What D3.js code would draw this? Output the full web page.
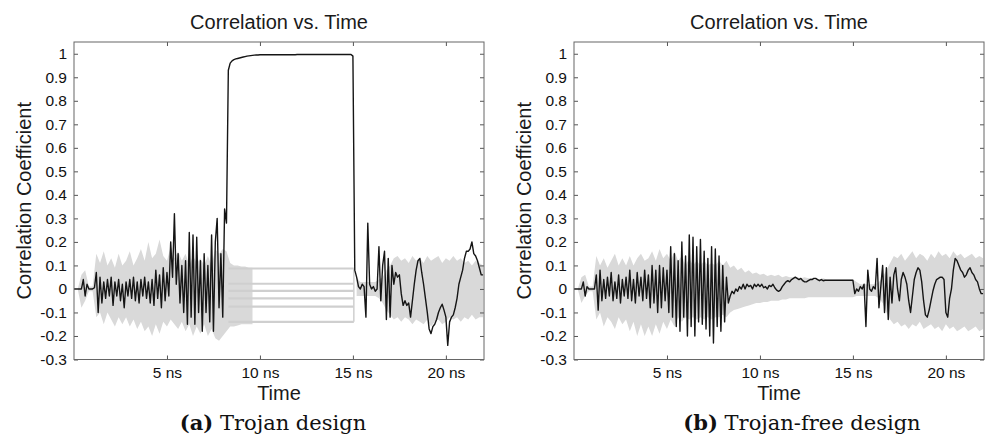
<!DOCTYPE html>
<html>
<head>
<meta charset="utf-8">
<script src="https://cdn.jsdelivr.net/npm/d3@7"></script>
<style>
  body { margin: 0; background: #fff; }
  svg { display: block; }
</style>
</head>
<body>
<div id="graphContainer"></div>
<script>
// sample spacing of the traces (ns)
const blackStep = 0.1
const grayStep = 0.2

const xTicks = [5, 10, 15, 20]
const yTicks = [1, 0.9, 0.8, 0.7, 0.6, 0.5, 0.4, 0.3, 0.2, 0.1, 0, -0.1, -0.2, -0.3]

// (a) Trojan design - correct key guess, one value every 0.1 ns from 0 to 22 ns
const trojanBlack = [
  0, 0, 0, 0, 0, 0.04, -0.03, 0.02, 0, 0,
  0, 0.005, 0.07, -0.1, 0.05, -0.06, 0.03, -0.04, 0.04, -0.03,
  0.05, -0.07, 0.03, -0.03, 0.04, -0.05, 0.02, -0.08, 0.03, -0.03,
  0.04, -0.04, 0.05, -0.05, 0.03, -0.06, 0.04, -0.03, 0.05, -0.04,
  0.03, -0.06, 0.04, -0.07, 0.08, -0.04, 0.06, -0.08, 0.09, -0.05,
  0.07, -0.03, 0.2, 0.05, 0.32, 0.02, 0.15, -0.06, 0.1, -0.1,
  0.12, -0.15, 0.24, -0.12, 0.23, -0.15, 0.22, -0.1, 0.12, -0.18,
  0.15, -0.1, 0.1, -0.14, 0.23, -0.18, 0.2, 0.3, -0.08, 0.15,
  -0.12, 0.34, 0.28, 0.93, 0.96, 0.97, 0.975, 0.978, 0.98, 0.982,
  0.984, 0.986, 0.988, 0.99, 0.991, 0.992, 0.993, 0.994, 0.995, 0.995,
  0.996, 0.996, 0.996, 0.996, 0.996, 0.996, 0.996, 0.996, 0.996, 0.996,
  0.996, 0.996, 0.996, 0.996, 0.996, 0.996, 0.996, 0.996, 0.996, 0.996,
  0.997, 0.997, 0.997, 0.997, 0.997, 0.997, 0.997, 0.997, 0.997, 0.997,
  0.997, 0.997, 0.997, 0.997, 0.997, 0.997, 0.997, 0.997, 0.997, 0.997,
  0.997, 0.997, 0.997, 0.997, 0.997, 0.997, 0.997, 0.997, 0.997, 0.997,
  0.99, 0.08, 0.05, 0.01, 0, 0.02, 0.01, -0.12, 0.28, 0.02,
  0, 0.01, -0.01, 0, 0.18, -0.05, 0.1, 0.16, -0.13, 0.13,
  -0.12, 0.1, 0.02, 0.07, 0.05, 0.06, -0.02, -0.07, -0.05, -0.07,
  -0.06, -0.12, -0.05, 0.02, 0.08, 0.12, 0.13, 0.07, 0.02, -0.04,
  -0.1, -0.17, -0.19, -0.16, -0.15, -0.13, -0.1, -0.08, -0.065, -0.09,
  -0.12, -0.24, -0.14, -0.12, -0.11, -0.08, -0.04, 0.02, 0.05, 0.08,
  0.13, 0.16, 0.16, 0.17, 0.2, 0.15, 0.14, 0.12, 0.09, 0.06, 0.06
]

// (a) spread of the wrong key guesses, every 0.2 ns (null = only flat lines)
const trojanGrayHi = [
  0, 0, 0.06, 0.08, 0.01, 0.01, 0.15, 0.11, 0.16, 0.1,
  0.13, 0.09, 0.15, 0.1, 0.12, 0.16, 0.1, 0.13, 0.17, 0.12,
  0.2, 0.13, 0.15, 0.21, 0.14, 0.12, 0.18, 0.13, 0.16, 0.12,
  0.15, 0.1, 0.14, 0.11, 0.13, 0.1, 0.14, 0.1, 0.17, 0.15,
  0.17, 0.16, 0.11, 0.1, 0.1, 0.095, 0.095, 0.09, 0.09, null,
  null, null, null, null, null, null, null, null, null, null,
  null, null, null, null, null, null, null, null, null, null,
  null, null, null, null, null, null, 0.05, 0.03, 0.03, 0.03,
  0.03, 0.03, 0.04, 0.05, 0.08, 0.1, 0.13, 0.14, 0.12, 0.13,
  0.11, 0.14, 0.12, 0.13, 0.11, 0.14, 0.12, 0.13, 0.14, 0.11,
  0.13, 0.12, 0.14, 0.12, 0.13, 0.11, 0.12, 0.1, 0.12, 0.11, 0.1
]
const trojanGrayLo = [
  0, 0, -0.08, -0.05, -0.01, -0.01, -0.12, -0.1, -0.15, -0.1,
  -0.13, -0.16, -0.12, -0.15, -0.12, -0.16, -0.13, -0.17, -0.14, -0.18,
  -0.16, -0.2, -0.15, -0.19, -0.14, -0.16, -0.13, -0.15, -0.17, -0.14,
  -0.18, -0.15, -0.2, -0.16, -0.19, -0.15, -0.2, -0.17, -0.21, -0.22,
  -0.2, -0.18, -0.16, -0.16, -0.155, -0.15, -0.15, -0.15, -0.15, null,
  null, null, null, null, null, null, null, null, null, null,
  null, null, null, null, null, null, null, null, null, null,
  null, null, null, null, null, null, -0.03, -0.03, -0.03, -0.03,
  -0.03, -0.03, -0.04, -0.06, -0.09, -0.11, -0.13, -0.12, -0.14, -0.12,
  -0.13, -0.15, -0.13, -0.14, -0.15, -0.13, -0.16, -0.14, -0.13, -0.15,
  -0.14, -0.12, -0.13, -0.12, -0.14, -0.12, -0.13, -0.11, -0.13, -0.12, -0.12
]

// (a) wrong guesses stay flat while the trojan is active
const trojanFlatLevels = [0.087, 0.022, -0.008, -0.04, -0.075, -0.14]
const trojanFlatSpan = [8.3, 15.05]

// (b) Trojan-free design, every 0.1 ns
const cleanBlack = [
  0, 0, 0, 0, 0, 0.03, -0.03, 0.01, 0, 0,
  0, 0, 0.06, -0.09, 0.08, -0.05, 0.04, -0.04, 0.05, -0.03,
  0.07, -0.05, 0.03, -0.04, 0.06, -0.06, 0.04, -0.03, 0.05, -0.04,
  0.08, -0.05, 0.04, -0.06, 0.07, -0.03, 0.05, -0.05, 0.08, -0.04,
  0.06, -0.08, 0.1, -0.06, 0.08, -0.1, 0.1, -0.08, 0.09, -0.05,
  0.08, -0.1, 0.18, -0.12, 0.15, -0.16, 0.12, -0.18, 0.2, -0.12,
  0.14, -0.2, 0.23, -0.16, 0.22, -0.2, 0.18, -0.14, 0.21, -0.15,
  0.16, -0.17, 0.13, -0.2, 0.18, -0.23, 0.17, -0.16, 0.14, -0.18,
  0.1, -0.14, 0.05, -0.06, -0.03, -0.01, -0.02, 0, -0.01, 0.01,
  0, 0.02, 0, 0.02, 0.01, 0.015, 0, 0.02, 0.01, 0.02,
  0.01, 0.02, 0.005, 0.01, 0, 0.015, 0.01, 0.02, 0.005, -0.005,
  -0.01, -0.005, 0.01, 0.02, 0.03, 0.035, 0.03, 0.04, 0.045, 0.05,
  0.045, 0.04, 0.045, 0.035, 0.03, 0.03, 0.035, 0.04, 0.04, 0.045,
  0.045, 0.04, 0.035, 0.04, 0.035, 0.037, 0.037, 0.037, 0.037, 0.037,
  0.037, 0.037, 0.037, 0.037, 0.037, 0.037, 0.037, 0.037, 0.037, 0.037,
  0.037, -0.02, 0, -0.01, 0.01, 0, 0.02, -0.16, 0.08, 0,
  -0.01, 0.01, 0, 0.13, -0.08, 0.01, 0.1, -0.1, 0.09, -0.13,
  0.05, -0.06, 0.06, 0.09, 0, -0.05, 0.04, 0.07, 0.05, 0.02,
  -0.05, -0.1, -0.03, 0.04, 0.07, 0.09, 0.08, 0.03, -0.05, -0.11,
  -0.12, -0.09, -0.05, -0.01, 0.02, 0.04, 0.045, 0.05, 0.05, 0.04,
  -0.1, -0.12, -0.04, 0, 0.08, 0.13, 0.12, 0.1, 0.08, 0.07,
  0.05, 0.06, 0.08, 0.09, 0.07, 0.06, 0.04, 0.03, 0, -0.02, -0.02
]
const cleanGrayHi = [
  0, 0, 0.05, 0.06, 0.01, 0.01, 0.14, 0.1, 0.13, 0.09,
  0.12, 0.15, 0.1, 0.13, 0.1, 0.14, 0.1, 0.13, 0.15, 0.12,
  0.13, 0.16, 0.12, 0.17, 0.13, 0.15, 0.12, 0.16, 0.12, 0.14,
  0.1, 0.13, 0.1, 0.12, 0.1, 0.12, 0.1, 0.11, 0.1, 0.12,
  0.1, 0.12, 0.09, 0.1, 0.08, 0.09, 0.07, 0.08, 0.065, 0.07,
  0.06, 0.065, 0.055, 0.06, 0.055, 0.06, 0.05, 0.055, 0.05, 0.05,
  0.05, 0.045, 0.05, 0.045, 0.045, 0.045, 0.04, 0.045, 0.04, 0.04,
  0.04, 0.04, 0.04, 0.04, 0.04, 0.04, 0.03, 0.02, 0.02, 0.02,
  0.02, 0.02, 0.03, 0.05, 0.08, 0.11, 0.14, 0.13, 0.15, 0.12,
  0.14, 0.16, 0.13, 0.15, 0.14, 0.12, 0.15, 0.13, 0.16, 0.14,
  0.15, 0.13, 0.16, 0.14, 0.15, 0.13, 0.14, 0.15, 0.13, 0.14, 0.13
]
const cleanGrayLo = [
  0, 0, -0.06, -0.03, -0.01, -0.01, -0.13, -0.1, -0.16, -0.12,
  -0.14, -0.17, -0.12, -0.15, -0.13, -0.18, -0.14, -0.2, -0.15, -0.2,
  -0.16, -0.2, -0.15, -0.19, -0.14, -0.17, -0.13, -0.16, -0.12, -0.14,
  -0.12, -0.13, -0.12, -0.13, -0.12, -0.13, -0.12, -0.13, -0.12, -0.12,
  -0.11, -0.12, -0.1, -0.09, -0.085, -0.08, -0.075, -0.07, -0.065, -0.06,
  -0.06, -0.055, -0.055, -0.05, -0.05, -0.05, -0.045, -0.045, -0.04, -0.04,
  -0.04, -0.04, -0.04, -0.035, -0.035, -0.035, -0.035, -0.035, -0.035, -0.035,
  -0.035, -0.035, -0.035, -0.035, -0.035, -0.035, -0.03, -0.03, -0.03, -0.03,
  -0.03, -0.03, -0.04, -0.06, -0.1, -0.13, -0.15, -0.14, -0.16, -0.15,
  -0.17, -0.15, -0.16, -0.14, -0.17, -0.16, -0.15, -0.17, -0.16, -0.18,
  -0.15, -0.17, -0.16, -0.18, -0.17, -0.16, -0.18, -0.17, -0.16, -0.18, -0.17
]

let svgWidth = 986,
  svgHeight = 438
let plotTop = 42,
  plotBottom = 359.5,
  plotWidth = 410

let svg = d3
  .select('#graphContainer')
  .append('svg')
  .attr('width', svgWidth)
  .attr('height', svgHeight)

const sansFont = "'Liberation Sans', Arial, sans-serif"
const serifFont = "'DejaVu Serif', serif"

function drawPanel(p) {
  let left = p.left
  let x = d3.scaleLinear().domain([0, 22.05]).range([left, left + plotWidth])
  let y = d3.scaleLinear().domain([-0.3, 1.05]).range([plotBottom, plotTop])

  let g = svg.append('g')

  g.append('clipPath')
    .attr('id', 'clip-' + p.id)
    .append('rect')
    .attr('x', left)
    .attr('y', plotTop)
    .attr('width', plotWidth)
    .attr('height', plotBottom - plotTop)

  let plot = g.append('g').attr('clip-path', 'url(#clip-' + p.id + ')')

  // grey band of the other key guesses
  let band = p.grayHi.map((hi, i) => ({ t: i * grayStep, hi: hi, lo: p.grayLo[i] }))
  plot
    .append('path')
    .datum(band)
    .attr(
      'd',
      d3
        .area()
        .defined((d) => d.hi !== null)
        .x((d) => x(d.t))
        .y0((d) => y(d.lo))
        .y1((d) => y(d.hi))
    )
    .attr('fill', '#d9d9d9')

  if (p.flatLevels) {
    p.flatLevels.forEach((lv) => {
      plot
        .append('path')
        .datum(p.flatSpan.map((t) => ({ t: t, v: lv })))
        .attr(
          'd',
          d3
            .line()
            .x((d) => x(d.t))
            .y((d) => y(d.v))
        )
        .attr('stroke', '#cfcfcf')
        .attr('stroke-width', 2.2)
        .attr('fill', 'none')
    })
    let ext = d3.extent(p.flatLevels)
    plot
      .append('path')
      .datum(ext.map((v) => ({ t: p.flatSpan[1], v: v })))
      .attr(
        'd',
        d3
          .line()
          .x((d) => x(d.t))
          .y((d) => y(d.v))
      )
      .attr('stroke', '#cfcfcf')
      .attr('stroke-width', 1.5)
  }

  // correct key guess
  plot
    .append('path')
    .datum(p.black)
    .attr(
      'd',
      d3
        .line()
        .x((d, i) => x(i * blackStep))
        .y((d) => y(d))
    )
    .attr('stroke', '#151515')
    .attr('stroke-width', 1.4)
    .attr('stroke-linejoin', 'round')
    .attr('fill', 'none')

  // box and inward ticks on all four sides
  let axes = [
    d3.axisBottom(x).tickValues(xTicks).tickFormat((d) => d + ' ns'),
    d3.axisTop(x).tickValues(xTicks).tickFormat(''),
    d3.axisLeft(y).tickValues(yTicks).tickFormat((d) => (d === 0 || d === 1 ? String(d) : d.toFixed(1))),
    d3.axisRight(y).tickValues(yTicks).tickFormat(''),
  ]
  let shifts = [
    'translate(0,' + plotBottom + ')',
    'translate(0,' + plotTop + ')',
    'translate(' + left + ',0)',
    'translate(' + (left + plotWidth) + ',0)',
  ]
  axes.forEach((ax, k) => {
    let a = g
      .append('g')
      .attr('transform', shifts[k])
      .call(ax.tickSize(-4).tickPadding(7))
      .attr('font-family', sansFont)
      .attr('font-size', 15.5)
    a.select('.domain').remove()
    a.selectAll('.tick line').attr('stroke', '#555')
    a.selectAll('.tick text').attr('fill', '#111')
  })

  g.append('rect')
    .attr('x', left)
    .attr('y', plotTop)
    .attr('width', plotWidth)
    .attr('height', plotBottom - plotTop)
    .attr('fill', 'none')
    .attr('stroke', '#666')

  g.append('text')
    .attr('x', left + plotWidth / 2)
    .attr('y', 29)
    .attr('text-anchor', 'middle')
    .attr('font-family', sansFont)
    .attr('font-size', 20)
    .attr('fill', '#1a1a1a')
    .text('Correlation vs. Time')

  g.append('text')
    .attr('x', left + plotWidth / 2)
    .attr('y', 400)
    .attr('text-anchor', 'middle')
    .attr('font-family', sansFont)
    .attr('font-size', 20)
    .attr('fill', '#1a1a1a')
    .text('Time')

  g.append('text')
    .attr('transform', 'translate(' + (left - 43) + ',' + (plotTop + plotBottom) / 2 + ') rotate(-90)')
    .attr('text-anchor', 'middle')
    .attr('font-family', sansFont)
    .attr('font-size', 20)
    .attr('fill', '#1a1a1a')
    .text('Correlation Coefficient')

  let cap = g
    .append('text')
    .attr('x', p.capX)
    .attr('y', 430)
    .attr('text-anchor', 'middle')
    .attr('font-family', serifFont)
    .attr('font-size', 21)
    .attr('fill', '#111')
  cap.append('tspan').attr('font-weight', 'bold').text(p.tag)
  cap.append('tspan').text(' ' + p.caption)
}

drawPanel({
  id: 'a',
  left: 74,
  black: trojanBlack,
  grayHi: trojanGrayHi,
  grayLo: trojanGrayLo,
  flatLevels: trojanFlatLevels,
  flatSpan: trojanFlatSpan,
  tag: '(a)',
  caption: 'Trojan design',
  capX: 273,
})

drawPanel({
  id: 'b',
  left: 574,
  black: cleanBlack,
  grayHi: cleanGrayHi,
  grayLo: cleanGrayLo,
  tag: '(b)',
  caption: 'Trojan-free design',
  capX: 802,
})
</script>
</body>
</html>
